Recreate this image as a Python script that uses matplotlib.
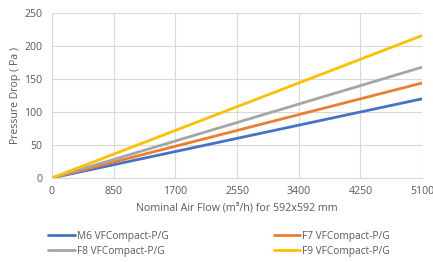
import matplotlib
matplotlib.use("Agg")
import matplotlib.pyplot as plt

plt.rcParams['font.family'] = ['Open Sans', 'DejaVu Sans']

# air flow (m3/h) and pressure drop (Pa) per filter class
flow = [0, 850, 1700, 2550, 3400, 4250, 5100]
m6 = [0, 20, 40, 60, 80, 100, 120]
f7 = [0, 24, 48, 72, 96, 120, 144]
f8 = [0, 28, 56, 84, 112, 140, 168]
f9 = [0, 36, 72, 108, 144, 180, 216]

names = ['M6 VFCompact-P/G', 'F7 VFCompact-P/G', 'F8 VFCompact-P/G', 'F9 VFCompact-P/G']
colors = ['#4472C4', '#ED7D31', '#A5A5A5', '#FFC000']
txt = '#595959'

fig = plt.figure(figsize=(4.33, 2.62), dpi=100)
ax = fig.add_axes([0.120, 0.321, 0.855, 0.629])

lines = []
for vals, name, col in zip([m6, f7, f8, f9], names, colors):
    ln, = ax.plot(flow, vals, color=col, lw=2.0, label=name, solid_capstyle='round')
    lines.append(ln)

ax.set_xlim(0, 5100)
ax.set_ylim(0, 250)
ax.set_xticks(flow)
ax.set_yticks(range(0, 251, 50))
ax.grid(True, color='#D9D9D9', lw=0.8)
ax.set_axisbelow(True)
for s in ['top', 'right', 'left']:
    ax.spines[s].set_visible(False)
ax.spines['bottom'].set_color('#D9D9D9')
ax.tick_params(length=0, labelsize=7.6, colors=txt)
ax.tick_params(axis='x', pad=6)
ax.tick_params(axis='y', pad=7)

ax.set_xlabel('Nominal Air Flow (m³/h) for 592x592 mm', fontsize=7.7, color=txt, labelpad=4)
ax.set_ylabel('Pressure Drop ( Pa )', fontsize=7.6, color=txt, labelpad=2)

# legend order: M6, F7 on top row, F8, F9 below
order = [lines[0], lines[2], lines[1], lines[3]]
fig.legend(order, [l.get_label() for l in order], ncol=2, loc='upper left',
           bbox_to_anchor=(0.102, 0.135), frameon=False, fontsize=7.3,
           labelcolor=txt, handlelength=2.6, handletextpad=0.2,
           columnspacing=10.4, labelspacing=0.4, borderaxespad=0)

fig.savefig('out.png', dpi=100)
